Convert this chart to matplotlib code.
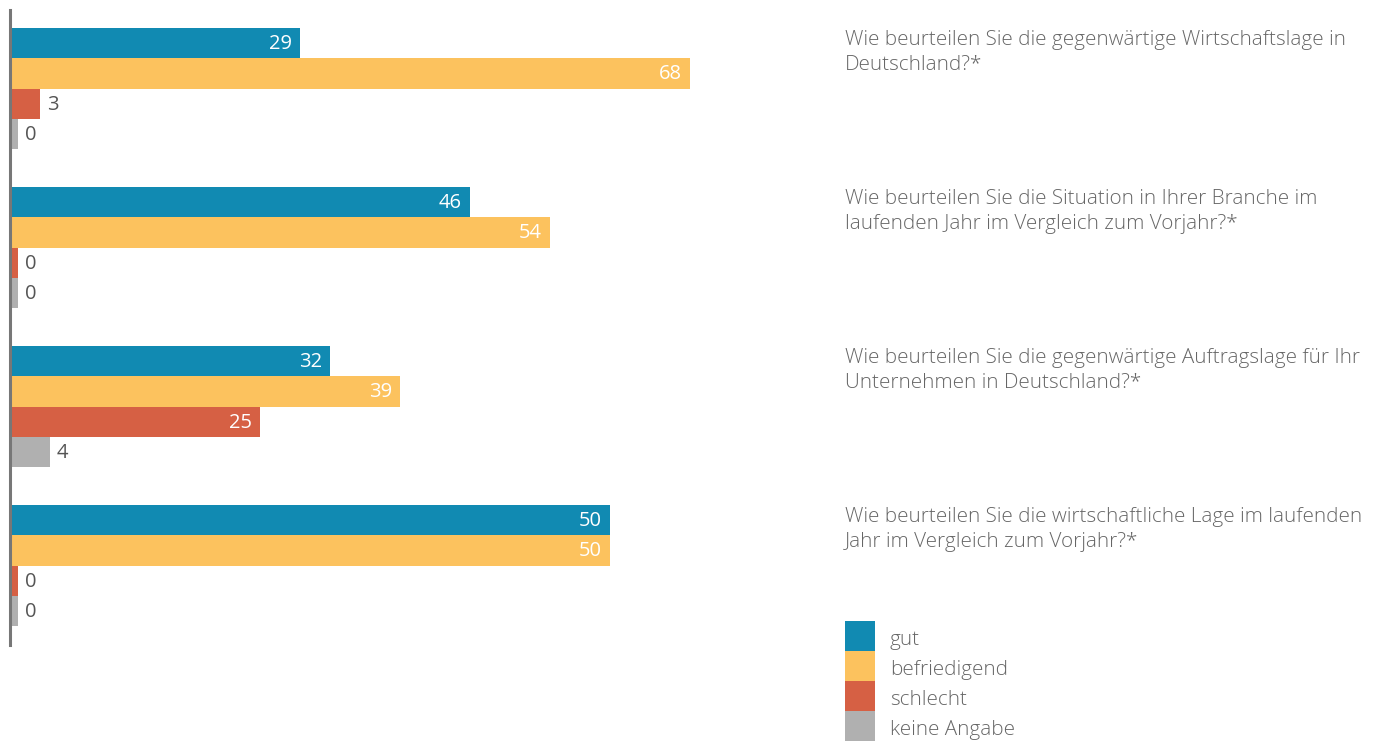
import matplotlib
matplotlib.use('Agg')
import matplotlib.pyplot as plt
from matplotlib.patches import Rectangle

plt.rcParams['font.family'] = ['Open Sans', 'DejaVu Sans']

W, H = 1378, 742

questions = [
    'Wie beurteilen Sie die gegenwärtige Wirtschaftslage in\nDeutschland?*',
    'Wie beurteilen Sie die Situation in Ihrer Branche im\nlaufenden Jahr im Vergleich zum Vorjahr?*',
    'Wie beurteilen Sie die gegenwärtige Auftragslage für Ihr\nUnternehmen in Deutschland?*',
    'Wie beurteilen Sie die wirtschaftliche Lage im laufenden\nJahr im Vergleich zum Vorjahr?*',
]
series = ['gut', 'befriedigend', 'schlecht', 'keine Angabe']
gut = [29, 46, 32, 50]
befriedigend = [68, 54, 39, 50]
schlecht = [3, 0, 25, 0]
keine_angabe = [0, 0, 4, 0]
# the source draws the last group's bars at 60 although labelled 50
gut_drawn = [29, 46, 32, 60]
befriedigend_drawn = [68, 54, 39, 60]

colors = ['#118ab2', '#fcc25e', '#d66044', '#b0b0b0']
text_grey = '#666666'
label_grey = '#555555'

values = [gut, befriedigend, schlecht, keine_angabe]
drawn = [gut_drawn, befriedigend_drawn, schlecht, keine_angabe]

fig = plt.figure(figsize=(W / 100, H / 100), dpi=100)

# bar axes: y data in pixel rows, x in percent (10 px per unit)
top, bottom, left = 10, 645, 10
ax = fig.add_axes([left / W, (H - bottom) / H, 820 / W, (bottom - top) / H])
ax.set_xlim(0, 82)
ax.set_ylim(bottom, top)

first_top, pitch, bar_h = 28, 159, 30.3
for k in range(4):
    ys = [first_top + pitch * g + bar_h * k + bar_h / 2 for g in range(4)]
    widths = [max(v, 0.8) for v in drawn[k]]
    ax.barh(ys, widths, height=bar_h, color=colors[k], linewidth=0)
    for y, w, v in zip(ys, widths, values[k]):
        if v >= 10:
            ax.annotate(str(v), (w, y), xytext=(-8, -1), textcoords='offset pixels',
                        ha='right', va='center', color='white', fontsize=14.5)
        else:
            ax.annotate(str(v), (w, y), xytext=(7, -1), textcoords='offset pixels',
                        ha='left', va='center', color=label_grey, fontsize=14.5)

for s in ['top', 'right', 'bottom']:
    ax.spines[s].set_visible(False)
ax.spines['left'].set_color('#777777')
ax.spines['left'].set_linewidth(2.2)
ax.set_xticks([])
ax.set_yticks([])

# overlay in pixel coordinates for questions and legend
ov = fig.add_axes([0, 0, 1, 1])
ov.set_xlim(0, W)
ov.set_ylim(H, 0)
ov.axis('off')

for g, q in enumerate(questions):
    ov.text(845, first_top + pitch * g + 2, q, ha='left', va='top', color=text_grey,
            fontsize=14.9, fontweight='light', linespacing=1.3)

for k, name in enumerate(series):
    y0 = 621 + 30 * k
    ov.add_patch(Rectangle((845, y0), 30, 30, color=colors[k], linewidth=0))
    ov.text(890, y0 + 19, name, ha='left', va='center', color=text_grey,
            fontsize=14.9, fontweight='light')

fig.savefig('out.png', dpi=100)
